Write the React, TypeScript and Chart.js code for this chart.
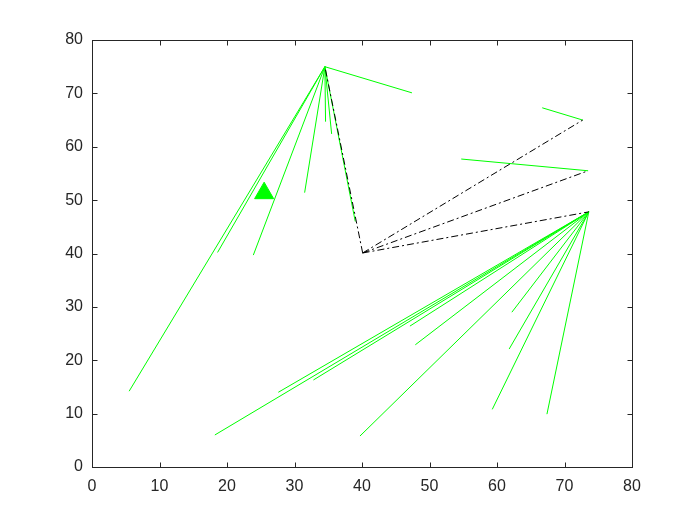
import React, { useEffect, useRef } from "react";
import { Chart, registerables } from "chart.js";

Chart.register(...registerables);

// Data (axis units)
const xTicks = [0, 10, 20, 30, 40, 50, 60, 70, 80];
const yTicks = [0, 10, 20, 30, 40, 50, 60, 70, 80];

const hubA: [number, number] = [34.5, 75];
const hubB: [number, number] = [73.6, 47.8];
const nodeC: [number, number] = [40.1, 40.1];
const nodeD: [number, number] = [72.7, 65.0];
const nodeE: [number, number] = [73.5, 55.5];

const spokesA: [number, number][] = [
  [5.5, 14.2],
  [18.6, 40.2],
  [23.9, 39.7],
  [31.5, 51.4],
  [34.6, 64.7],
  [35.5, 62.4],
  [39.0, 46.0],
  [47.4, 70.1],
];

const spokesB: [number, number][] = [
  [18.2, 6.0],
  [27.6, 14.0],
  [32.8, 16.3],
  [47.1, 26.4],
  [47.9, 22.9],
  [39.7, 5.8],
  [62.2, 29.0],
  [61.8, 22.1],
  [59.3, 10.8],
  [67.4, 9.9],
];

const spokesD: [number, number][] = [[66.7, 67.3]];
const spokesE: [number, number][] = [[54.7, 57.7]];

const dashTargetsC: [number, number][] = [hubA, nodeD, nodeE, hubB];

const marker: [number, number] = [25.5, 51.3];

const GREEN = "#00ff00";

function seg(a: [number, number], b: [number, number], color: string, dash: number[] = []) {
  return {
    data: [
      { x: a[0], y: a[1] },
      { x: b[0], y: b[1] },
    ],
    showLine: true,
    borderColor: color,
    borderWidth: 1,
    borderDash: dash,
    pointRadius: 0,
    fill: false,
  };
}

const boxPlugin = {
  id: "boxTicks",
  afterDraw(chart: any) {
    const { ctx, chartArea } = chart;
    const xs = chart.scales.x;
    const ys = chart.scales.y;
    const l = Math.round(chartArea.left) + 0.5;
    const r = Math.round(chartArea.right) + 0.5;
    const t = Math.round(chartArea.top) + 0.5;
    const b = Math.round(chartArea.bottom) + 0.5;
    ctx.save();
    ctx.strokeStyle = "#262626";
    ctx.lineWidth = 1;
    ctx.setLineDash([]);
    ctx.strokeRect(l, t, r - l, b - t);
    const len = 5;
    ctx.beginPath();
    xTicks.forEach((v) => {
      const px = Math.round(xs.getPixelForValue(v)) + 0.5;
      ctx.moveTo(px, b);
      ctx.lineTo(px, b - len);
      ctx.moveTo(px, t);
      ctx.lineTo(px, t + len);
    });
    yTicks.forEach((v) => {
      const py = Math.round(ys.getPixelForValue(v)) + 0.5;
      ctx.moveTo(l, py);
      ctx.lineTo(l + len, py);
      ctx.moveTo(r, py);
      ctx.lineTo(r - len, py);
    });
    ctx.stroke();
    ctx.restore();
  },
};

const bgPlugin = {
  id: "bg",
  beforeDraw(chart: any) {
    const { ctx, width, height } = chart;
    ctx.save();
    ctx.fillStyle = "#ffffff";
    ctx.fillRect(0, 0, width, height);
    ctx.restore();
  },
};

export default function App() {
  const ref = useRef<HTMLCanvasElement | null>(null);

  useEffect(() => {
    if (!ref.current) return;
    const datasets: any[] = [];
    datasets.push({
      data: [{ x: marker[0], y: marker[1] }],
      pointStyle: "triangle",
      pointRadius: 11,
      backgroundColor: GREEN,
      borderColor: GREEN,
      borderWidth: 1,
      showLine: false,
    });
    dashTargetsC.forEach((p) => datasets.push(seg(nodeC, p, "#000000", [7, 3, 2, 3])));
    spokesA.forEach((p) => datasets.push(seg(hubA, p, GREEN)));
    spokesB.forEach((p) => datasets.push(seg(hubB, p, GREEN)));
    spokesD.forEach((p) => datasets.push(seg(nodeD, p, GREEN)));
    spokesE.forEach((p) => datasets.push(seg(nodeE, p, GREEN)));

    const font = { family: "'Liberation Sans', Arial, sans-serif", size: 16 };
    const chart = new Chart(ref.current, {
      type: "scatter",
      data: { datasets },
      options: {
        responsive: false,
        animation: false,
        layout: { padding: { left: 0, top: 40, right: 68, bottom: 0 } },
        plugins: { legend: { display: false }, tooltip: { enabled: false } },
        scales: {
          x: {
            type: "linear",
            min: 0,
            max: 80,
            grid: { display: false, drawTicks: false },
            border: { display: false },
            afterBuildTicks: (s: any) => {
              s.ticks = xTicks.map((v) => ({ value: v }));
            },
            ticks: { font, color: "#262626", padding: 10, maxRotation: 0, autoSkip: false },
            afterFit: (s: any) => {
              s.height = 58;
            },
          },
          y: {
            type: "linear",
            min: 0,
            max: 80,
            grid: { display: false, drawTicks: false },
            border: { display: false },
            afterBuildTicks: (s: any) => {
              s.ticks = yTicks.map((v) => ({ value: v }));
            },
            ticks: { font, color: "#262626", padding: 9, autoSkip: false },
            afterFit: (s: any) => {
              s.width = 92;
            },
          },
        },
      } as any,
      plugins: [bgPlugin, boxPlugin],
    });
    return () => chart.destroy();
  }, []);

  return (
    <div style={{ position: "fixed", left: 0, top: 0, width: 700, height: 525, background: "#fff" }}>
      <canvas ref={ref} width={700} height={525} />
    </div>
  );
}
